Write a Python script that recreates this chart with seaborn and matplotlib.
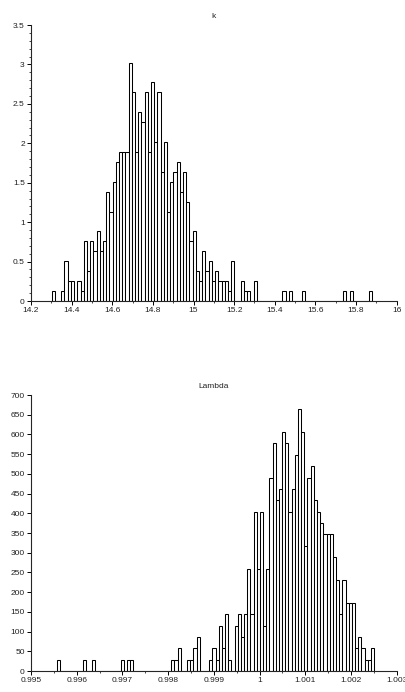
import numpy as np
import pandas as pd
import matplotlib
matplotlib.use('Agg')
import matplotlib.pyplot as plt
import seaborn as sns
from matplotlib.ticker import MultipleLocator, FormatStrFormatter

# counts per class (100 classes between min and max of the sample)
k_min, k_max = 14.3017, 15.879
k_counts = [1, 0, 0, 1, 4, 2, 2, 0, 2, 1,
            6, 3, 6, 5, 7, 5, 6, 11, 9, 12,
            14, 15, 15, 15, 24, 21, 15, 19, 18, 21,
            15, 22, 16, 21, 13, 16, 9, 12, 13, 14,
            11, 13, 10, 6, 7, 3, 2, 5, 3, 4,
            2, 3, 2, 2, 2, 1, 4, 0, 0, 2,
            1, 1, 0, 2, 0, 0, 0, 0, 0, 0,
            0, 0, 1, 0, 1, 0, 0, 0, 1, 0,
            0, 0, 0, 0, 0, 0, 0, 0, 0, 0,
            0, 1, 0, 1, 0, 0, 0, 0, 0, 1]

lam_min, lam_max = 0.995575, 1.0025035
lam_counts = [1, 0, 0, 0, 0, 0, 0, 0, 1, 0,
              0, 1, 0, 0, 0, 0, 0, 0, 0, 0,
              1, 0, 1, 1, 0, 0, 0, 0, 0, 0,
              0, 0, 0, 0, 0, 0, 1, 1, 2, 0,
              0, 1, 1, 2, 3, 0, 0, 0, 1, 2,
              1, 4, 2, 5, 1, 0, 4, 5, 3, 5,
              9, 5, 14, 9, 14, 4, 9, 17, 20, 15,
              16, 21, 20, 14, 16, 19, 23, 21, 11, 17,
              18, 15, 14, 13, 12, 12, 12, 10, 8, 5,
              8, 6, 6, 6, 2, 3, 2, 1, 1, 2]

sns.set_style('ticks')
plt.rcParams['font.family'] = ['Liberation Sans', 'DejaVu Sans']

fig = plt.figure(figsize=(4.06, 6.92), dpi=100)
ax1 = fig.add_axes([0.0764, 0.565, 0.9007, 0.3988])
ax2 = fig.add_axes([0.0764, 0.0303, 0.9007, 0.3988])


def draw_hist(ax, counts, lo, hi, title):
    edges = np.linspace(lo, hi, len(counts) + 1)
    df = pd.DataFrame({'value': (edges[:-1] + edges[1:]) / 2,
                       'count': counts})
    sns.histplot(data=df, x='value', weights='count', bins=list(edges),
                 stat='density', color='white', edgecolor='black',
                 linewidth=0.75, alpha=1, ax=ax)
    ax.set_title(title, fontsize=6, color='#222222', pad=5)
    ax.set_xlabel('')
    ax.set_ylabel('')
    sns.despine(ax=ax)
    ax.spines['left'].set_linewidth(0.8)
    ax.spines['bottom'].set_linewidth(0.8)
    ax.tick_params(which='major', length=3, width=0.7, labelsize=6,
                   colors='black', labelcolor='#222222', pad=1.5)
    ax.tick_params(which='minor', length=1.6, width=0.6)


draw_hist(ax1, k_counts, k_min, k_max, 'k')
ax1.set_xlim(14.2, 16)
ax1.set_ylim(0, 3.5)
ax1.xaxis.set_major_locator(MultipleLocator(0.2))
ax1.xaxis.set_minor_locator(MultipleLocator(0.1))
ax1.yaxis.set_major_locator(MultipleLocator(0.5))
ax1.yaxis.set_minor_locator(MultipleLocator(0.1))
ax1.xaxis.set_major_formatter(FormatStrFormatter('%g'))
ax1.yaxis.set_major_formatter(FormatStrFormatter('%g'))

draw_hist(ax2, lam_counts, lam_min, lam_max, 'Lambda')
ax2.set_xlim(0.995, 1.003)
ax2.set_ylim(0, 700)
ax2.xaxis.set_major_locator(MultipleLocator(0.001))
ax2.xaxis.set_minor_locator(MultipleLocator(0.0005))
ax2.yaxis.set_major_locator(MultipleLocator(50))
ax2.xaxis.set_major_formatter(FormatStrFormatter('%g'))
ax2.yaxis.set_major_formatter(FormatStrFormatter('%g'))

fig.savefig('out.png', dpi=100)
